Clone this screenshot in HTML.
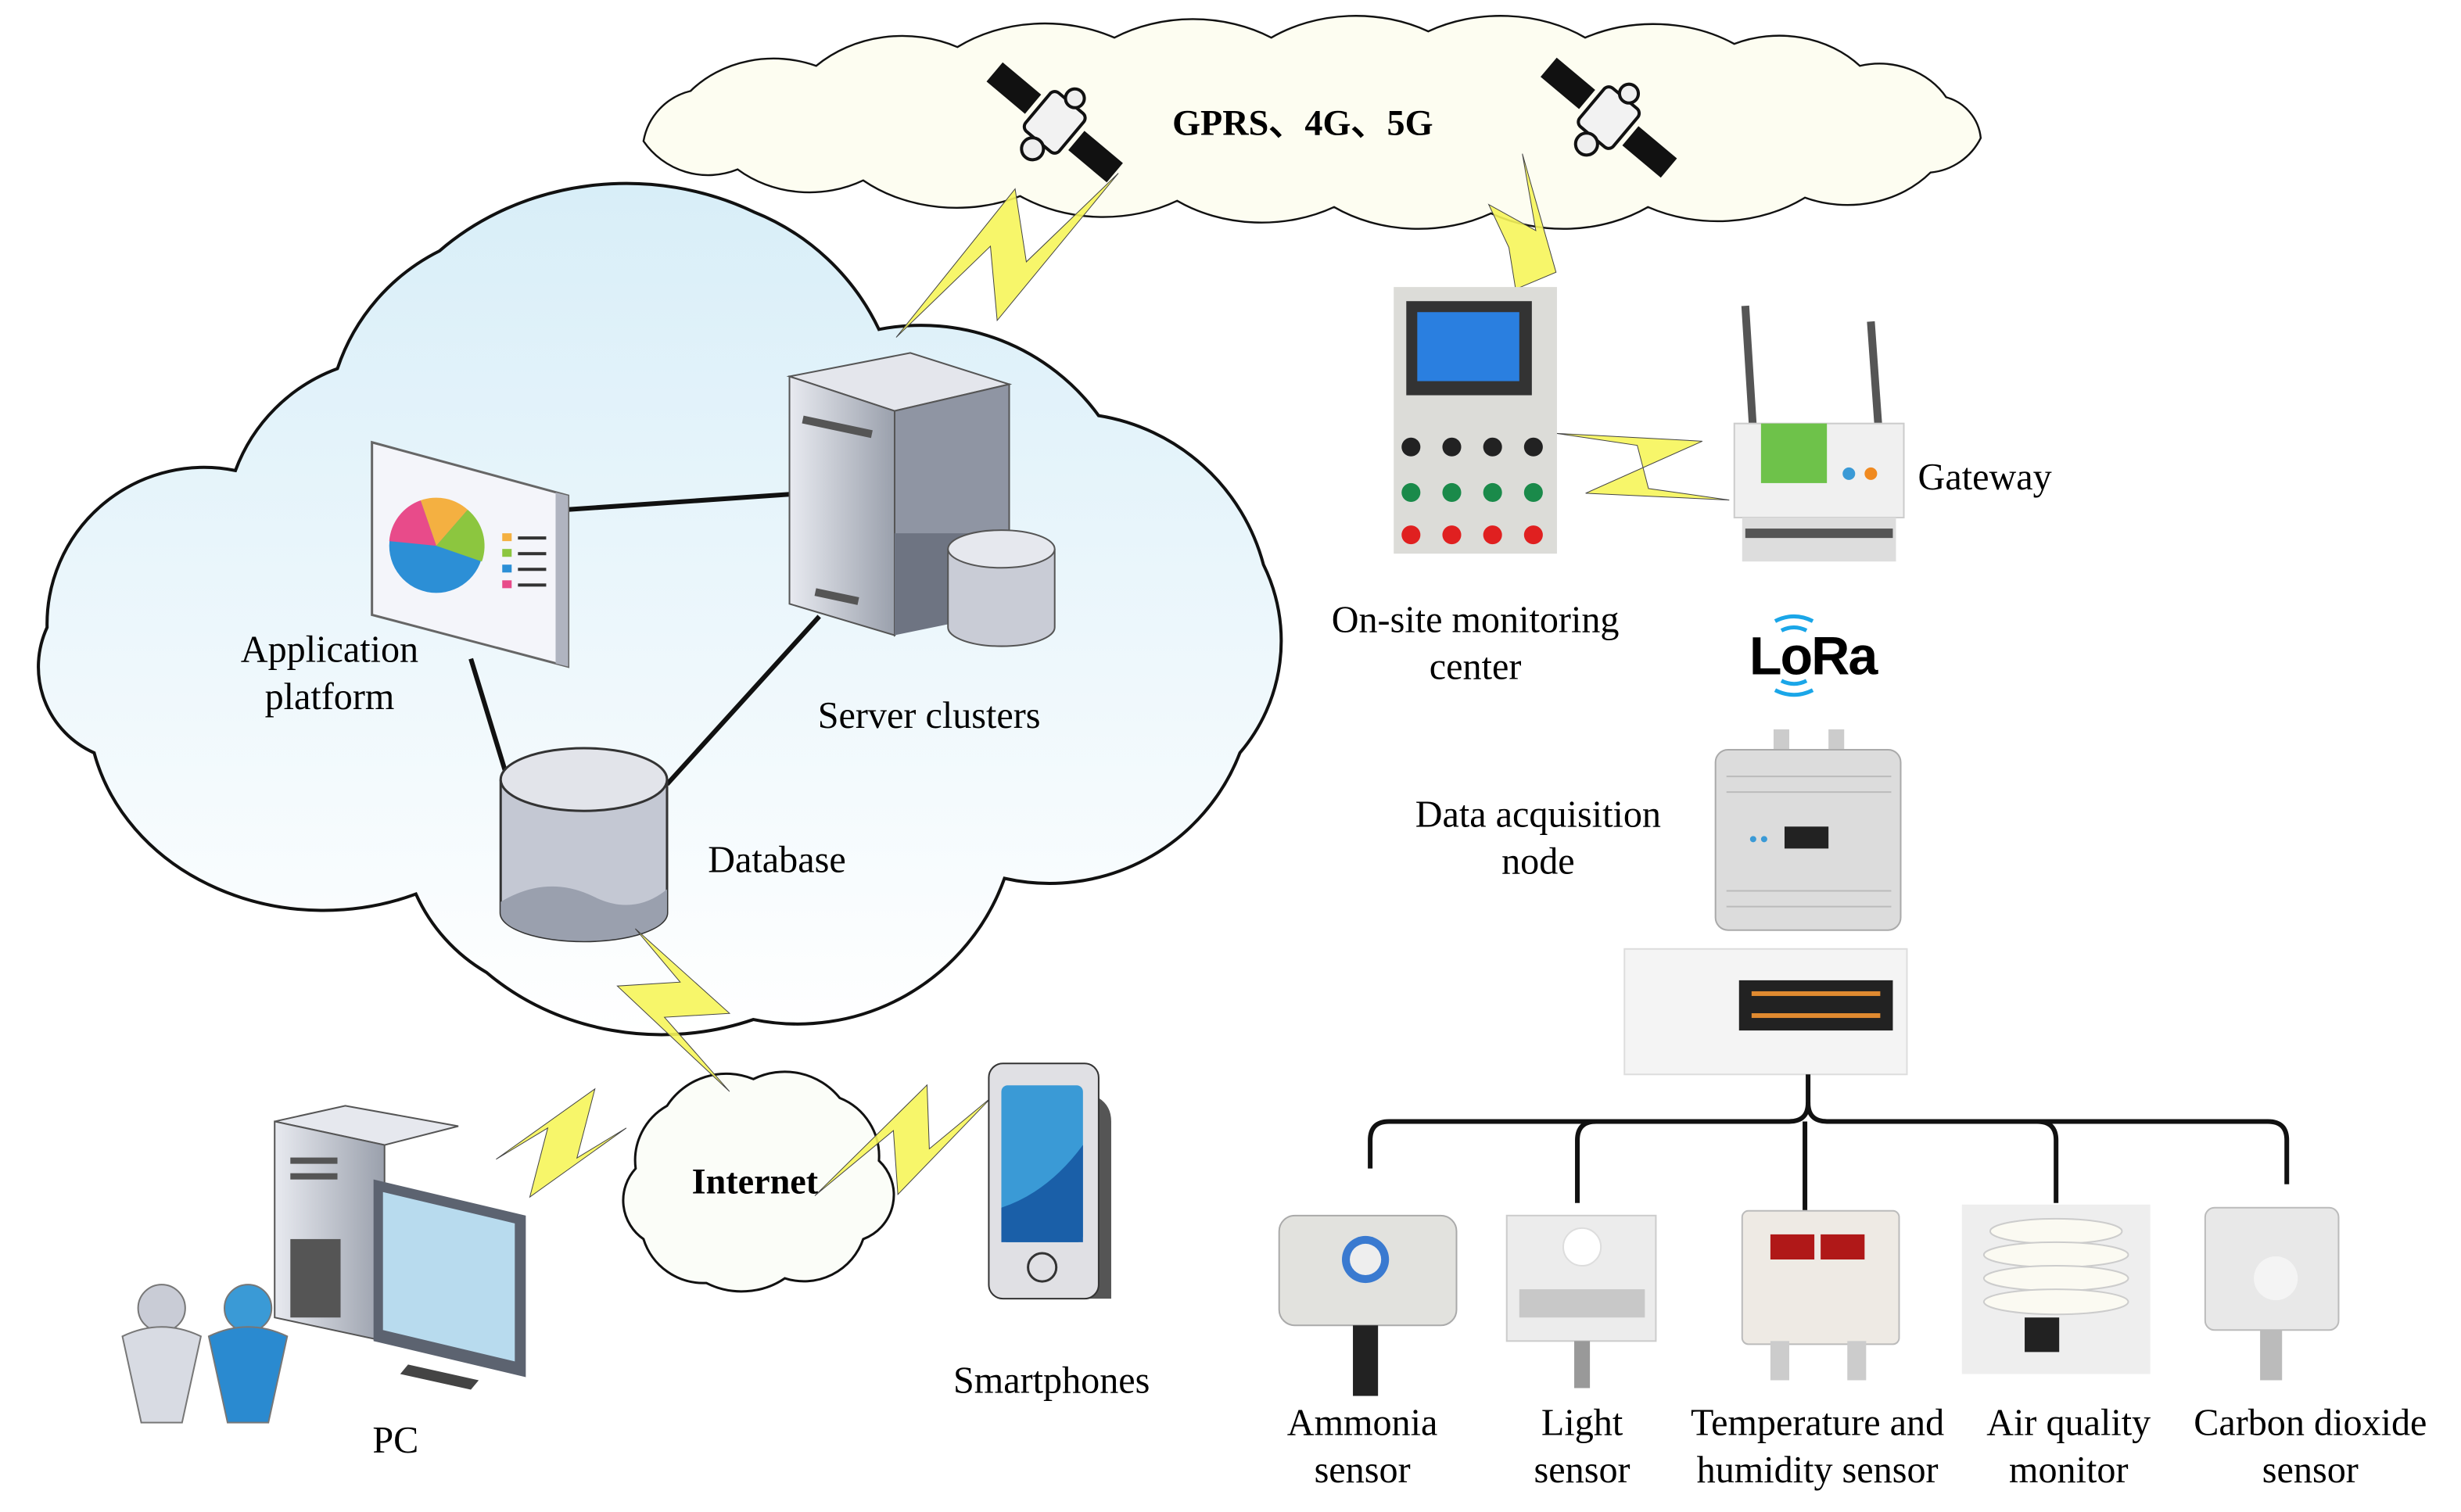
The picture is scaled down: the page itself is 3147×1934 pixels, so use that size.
<!DOCTYPE html>
<html><head><meta charset="utf-8"><style>html,body{margin:0;padding:0;background:#fff}svg{display:block}</style></head><body>
<svg width="3147" height="1934" viewBox="0 0 1568 964" preserveAspectRatio="none" xmlns="http://www.w3.org/2000/svg" font-family="Liberation Serif, serif">
<defs>
<linearGradient id="cg" x1="0" y1="0" x2="0" y2="1"><stop offset="0" stop-color="#d8eef8"/><stop offset="1" stop-color="#ffffff"/></linearGradient>
<linearGradient id="sv" x1="0" y1="0" x2="1" y2="0"><stop offset="0" stop-color="#e8eaf0"/><stop offset="1" stop-color="#9aa0ac"/></linearGradient>
<g id="sat"><g fill="#111"><rect x="-50" y="-8" width="32" height="16"/><rect x="18" y="-8" width="32" height="16"/></g><rect x="-14" y="-16" width="28" height="32" rx="4" fill="#f2f2f2" stroke="#111" stroke-width="2"/><circle cx="0" cy="-20" r="6" fill="#eee" stroke="#111" stroke-width="2"/><circle cx="0" cy="22" r="7" fill="#eee" stroke="#111" stroke-width="2"/></g>
</defs>
<rect width="1568" height="964" fill="#fff"/>
<!-- top cloud -->
<path d="M410,90 A40,40 0 0 1 440,58 A70,60 0 0 1 520,42 A80,70 0 0 1 610,30 A90,70 0 0 1 710,24 A90,70 0 0 1 810,24 A90,70 0 0 1 910,20 A90,70 0 0 1 1010,24 A90,70 0 0 1 1105,28 A70,60 0 0 1 1185,42 A50,45 0 0 1 1240,62 A30,30 0 0 1 1262,88 A40,40 0 0 1 1230,110 A70,60 0 0 1 1150,126 A90,70 0 0 1 1050,132 A90,70 0 0 1 950,136 A90,70 0 0 1 850,132 A90,70 0 0 1 750,128 A90,70 0 0 1 650,125 A90,70 0 0 1 550,115 A70,60 0 0 1 470,108 A50,50 0 0 1 410,90 Z" fill="#fdfdf1" stroke="#111" stroke-width="1.2"/>
<text x="830" y="86" font-size="23" font-weight="bold" text-anchor="middle">GPRS、4G、5G</text>
<use href="#sat" transform="translate(672,78) rotate(40)"/>
<use href="#sat" transform="translate(1025,75) rotate(40)"/>
<!-- left cloud -->
<path d="M60,480 A60,60 0 0 1 30,400 A100,100 0 0 1 150,300 A110,110 0 0 1 215,235 A130,130 0 0 1 280,160 A170,150 0 0 1 480,135 A150,150 0 0 1 560,210 A140,140 0 0 1 700,265 A130,130 0 0 1 805,360 A110,110 0 0 1 790,480 A130,130 0 0 1 640,560 A140,140 0 0 1 480,650 A160,140 0 0 1 310,620 A110,110 0 0 1 265,570 A150,130 0 0 1 60,480 Z" fill="url(#cg)" stroke="#111" stroke-width="2"/>
<!-- lines -->
<g stroke="#111" stroke-width="3"><line x1="360" y1="325" x2="505" y2="315"/><line x1="300" y1="420" x2="322" y2="492"/><line x1="522" y1="393" x2="425" y2="500"/></g>
<!-- app platform -->
<polygon points="237,282 362,316 362,425 237,392" fill="#f4f5fa" stroke="#666" stroke-width="1.5"/>
<polygon points="354,314 362,316 362,425 354,423" fill="#b0b4c0"/>
<circle cx="278" cy="348" r="30" fill="#2c8fd6"/>
<path d="M278,348 L248,345 A30,30 0 0 1 268,319 Z" fill="#e84b8a"/>
<path d="M278,348 L268,319 A30,30 0 0 1 298,325 Z" fill="#f4b041"/>
<path d="M278,348 L298,325 A30,30 0 0 1 307,358 Z" fill="#8cc63f"/>
<g fill="#333"><rect x="320" y="340" width="6" height="5" fill="#f4b041"/><rect x="330" y="342" width="18" height="2"/><rect x="320" y="350" width="6" height="5" fill="#8cc63f"/><rect x="330" y="352" width="18" height="2"/><rect x="320" y="360" width="6" height="5" fill="#2c8fd6"/><rect x="330" y="362" width="18" height="2"/><rect x="320" y="370" width="6" height="5" fill="#e84b8a"/><rect x="330" y="372" width="18" height="2"/></g>
<text x="210" y="422" font-size="24" text-anchor="middle">Application</text>
<text x="210" y="452" font-size="24" text-anchor="middle">platform</text>
<!-- server -->
<polygon points="503,240 580,225 643,245 570,262" fill="#e4e6ec" stroke="#555"/>
<polygon points="503,240 570,262 570,405 503,385" fill="url(#sv)" stroke="#555"/>
<polygon points="570,262 643,245 643,340 570,405" fill="#8f95a3" stroke="#555"/>
<polygon points="570,340 643,340 643,390 570,405" fill="#6e7482"/>
<rect x="512" y="265" width="45" height="5" fill="#555" transform="rotate(12 512 265)"/>
<rect x="520" y="375" width="28" height="5" fill="#555" transform="rotate(12 520 375)"/>
<path d="M604,350 v50 a34,12 0 0 0 68,0 v-50" fill="#c9ccd6" stroke="#555"/>
<ellipse cx="638" cy="350" rx="34" ry="12" fill="#e6e8ee" stroke="#555"/>
<text x="592" y="464" font-size="24" text-anchor="middle">Server clusters</text>
<!-- database -->
<path d="M319,497 v85 a53,18 0 0 0 106,0 v-85" fill="#c4c8d3" stroke="#333" stroke-width="1.5"/>
<path d="M319,575 q30,-18 60,-3 q25,12 46,-5 v15 a53,18 0 0 1 -106,0Z" fill="#9aa0ae"/>
<ellipse cx="372" cy="497" rx="53" ry="20" fill="#e2e4ea" stroke="#333" stroke-width="1.5"/>
<text x="495" y="556" font-size="24" text-anchor="middle">Database</text>
<!-- internet cloud -->
<path d="M410,790 A30,30 0 0 1 405,745 A40,40 0 0 1 425,705 A45,45 0 0 1 480,688 A45,45 0 0 1 535,700 A40,40 0 0 1 560,740 A30,30 0 0 1 550,790 A40,40 0 0 1 500,815 A45,40 0 0 1 450,818 A40,40 0 0 1 410,790Z" fill="#fbfdf8" stroke="#111" stroke-width="1.5"/>
<text x="481" y="761" font-size="23" font-weight="bold" text-anchor="middle">Internet</text>
<!-- bolts -->
<g fill="#f6f55a" stroke="#444" stroke-width="1" fill-opacity="0.9">
<g transform="translate(548.1,89.7) scale(0.286,0.1661)">
<polygon vector-effect="non-scaling-stroke" points="345,185 370,465 575,125 305,690 290,405 80,755"/>
<polygon vector-effect="non-scaling-stroke" points="1475,50 1505,345 1400,245 1445,410 1460,570 1550,505"/>
</g>
<g transform="translate(298.95,573) scale(0.286,0.1661)">
<polygon vector-effect="non-scaling-stroke" points="370,115 580,440 435,455 580,740 330,335 470,320"/>
<polygon vector-effect="non-scaling-stroke" points="280,730 240,995 350,880 135,1145 175,880 60,1000"/>
<polygon vector-effect="non-scaling-stroke" points="1020,715 1025,960 1165,760 955,1135 945,890 770,1140"/>
</g>
<g transform="translate(797.2,169.4) scale(0.286,0.332)">
<polygon vector-effect="non-scaling-stroke" points="680,322 1005,337 745,437 1065,450 885,428 860,345"/>
</g>
</g>
<!-- PC -->
<polygon points="175,715 220,705 292,718 245,730" fill="#e6e8ee" stroke="#555"/>
<polygon points="175,715 245,730 245,855 175,840" fill="url(#sv)" stroke="#555"/>
<rect x="185" y="738" width="30" height="4" fill="#555"/><rect x="185" y="748" width="30" height="4" fill="#555"/>
<rect x="185" y="790" width="32" height="50" fill="#555"/>
<polygon points="238,752 335,775 335,878 238,855" fill="#5c6370"/>
<polygon points="244,760 328,780 328,868 244,848" fill="#b8dbee"/>
<polygon points="260,870 305,880 300,886 255,876" fill="#444"/>
<g stroke="#777"><circle cx="103" cy="834" r="15" fill="#c9ccd6"/><path d="M78,852 q25,-12 50,0 l-12,55 h-26Z" fill="#d8dbe3"/><circle cx="158" cy="834" r="15" fill="#3a9ad6"/><path d="M133,852 q25,-12 50,0 l-12,55 h-26Z" fill="#2a8ad0"/></g>
<text x="252" y="926" font-size="24" text-anchor="middle">PC</text>
<!-- phone -->
<path d="M640,678 L700,700 Q708,705 708,715 V828 H640Z" fill="#555"/>
<rect x="630" y="678" width="70" height="150" rx="9" fill="#e0e0e4" stroke="#333"/>
<rect x="638" y="692" width="52" height="100" rx="4" fill="#3a9ad6"/>
<path d="M638,770 q30,-10 52,-40 v62 h-52Z" fill="#1a5fa8"/>
<circle cx="664" cy="808" r="9" fill="none" stroke="#333" stroke-width="1.5"/>
<text x="670" y="888" font-size="24" text-anchor="middle">Smartphones</text>
<!-- on-site panel -->
<rect x="888" y="183" width="104" height="170" fill="#dcdcd8"/>
<rect x="896" y="192" width="80" height="60" fill="#333"/>
<rect x="903" y="199" width="65" height="44" fill="#2a7fe0"/>
<g fill="#222"><circle cx="899" cy="285" r="6"/><circle cx="925" cy="285" r="6"/><circle cx="951" cy="285" r="6"/><circle cx="977" cy="285" r="6"/></g>
<g fill="#1a8a4a"><circle cx="899" cy="314" r="6"/><circle cx="925" cy="314" r="6"/><circle cx="951" cy="314" r="6"/><circle cx="977" cy="314" r="6"/></g>
<g fill="#e02020"><circle cx="899" cy="341" r="6"/><circle cx="925" cy="341" r="6"/><circle cx="951" cy="341" r="6"/><circle cx="977" cy="341" r="6"/></g>
<text x="940" y="403" font-size="24" text-anchor="middle">On-site monitoring</text>
<text x="940" y="433" font-size="24" text-anchor="middle">center</text>
<!-- gateway -->
<line x1="1112" y1="195" x2="1117" y2="275" stroke="#555" stroke-width="5"/>
<line x1="1192" y1="205" x2="1197" y2="275" stroke="#555" stroke-width="5"/>
<rect x="1105" y="270" width="108" height="60" fill="#f0f0f0" stroke="#ccc"/>
<rect x="1122" y="270" width="42" height="38" fill="#6ec24a"/>
<circle cx="1178" cy="302" r="4" fill="#3a9ad6"/><circle cx="1192" cy="302" r="4" fill="#f08a20"/>
<rect x="1110" y="330" width="98" height="28" fill="#ddd"/>
<rect x="1112" y="337" width="94" height="6" fill="#555"/>
<text x="1222" y="312" font-size="24">Gateway</text>
<!-- LoRa -->
<text x="1155" y="430" font-size="34" font-weight="bold" font-family="Liberation Sans, sans-serif" text-anchor="middle" letter-spacing="-1">LoRa</text>
<g fill="none" stroke="#1aa6e8" stroke-width="2.5"><path d="M1131,396 q12,-6 24,0"/><path d="M1135,402 q8,-4 16,0"/><path d="M1131,440 q12,6 24,0"/><path d="M1135,434 q8,4 16,0"/></g>
<!-- data node -->
<text x="980" y="527" font-size="24" text-anchor="middle">Data acquisition</text>
<text x="980" y="557" font-size="24" text-anchor="middle">node</text>
<rect x="1130" y="465" width="10" height="15" fill="#ccc"/><rect x="1165" y="465" width="10" height="15" fill="#ccc"/>
<rect x="1093" y="478" width="118" height="115" rx="8" fill="#dcdcdc" stroke="#aaa"/>
<g stroke="#bbb"><line x1="1100" y1="495" x2="1205" y2="495"/><line x1="1100" y1="505" x2="1205" y2="505"/><line x1="1100" y1="568" x2="1205" y2="568"/><line x1="1100" y1="578" x2="1205" y2="578"/></g>
<rect x="1137" y="527" width="28" height="14" fill="#222"/>
<circle cx="1117" cy="535" r="2" fill="#3a9ad6"/><circle cx="1124" cy="535" r="2" fill="#3a9ad6"/>
<rect x="1035" y="605" width="180" height="80" fill="#f4f4f4" stroke="#ddd"/>
<rect x="1108" y="625" width="98" height="32" fill="#222"/>
<g fill="#e08a30"><rect x="1116" y="632" width="82" height="3"/><rect x="1116" y="646" width="82" height="3"/></g>
<!-- tree -->
<g fill="none" stroke="#111" stroke-width="3"><path d="M1152,685 v18 q0,12 -12,12 H885 q-12,0 -12,12 v18"/><path d="M1152,703 q0,12 12,12 H1445 q12,0 12,12 v28"/><path d="M1017,715 q-12,0 -12,12 v40"/><line x1="1150" y1="715" x2="1150" y2="772"/><path d="M1298,715 q12,0 12,12 v40"/></g>
<!-- sensors -->
<rect x="815" y="775" width="113" height="70" rx="10" fill="#e2e2de" stroke="#aaa"/>
<circle cx="870" cy="803" r="15" fill="#3a7ad0"/><circle cx="870" cy="803" r="10" fill="#eee"/>
<rect x="862" y="845" width="16" height="45" fill="#222"/>
<rect x="960" y="775" width="95" height="80" fill="#ececec" stroke="#ccc"/>
<circle cx="1008" cy="795" r="12" fill="#fff" stroke="#ddd"/><rect x="968" y="822" width="80" height="18" fill="#c8c8c8"/>
<rect x="1003" y="855" width="10" height="30" fill="#999"/>
<rect x="1110" y="772" width="100" height="85" rx="4" fill="#eeeae4" stroke="#bbb"/>
<rect x="1128" y="787" width="28" height="16" fill="#b01818"/><rect x="1160" y="787" width="28" height="16" fill="#b01818"/>
<rect x="1128" y="855" width="12" height="25" fill="#ccc"/><rect x="1177" y="855" width="12" height="25" fill="#ccc"/>
<rect x="1250" y="768" width="120" height="108" fill="#eeeeee"/>
<g fill="#fbfaf2" stroke="#ccc"><ellipse cx="1310" cy="785" rx="42" ry="8"/><ellipse cx="1310" cy="800" rx="46" ry="8"/><ellipse cx="1310" cy="815" rx="46" ry="8"/><ellipse cx="1310" cy="830" rx="46" ry="8"/></g>
<rect x="1290" y="840" width="22" height="22" fill="#222"/>
<rect x="1405" y="770" width="85" height="78" rx="6" fill="#e8e8e8" stroke="#bbb"/>
<circle cx="1450" cy="815" r="14" fill="#f4f4f4"/><rect x="1440" y="848" width="14" height="32" fill="#bbb"/>
<g font-size="24" text-anchor="middle">
<text x="868" y="915">Ammonia</text><text x="868" y="945">sensor</text>
<text x="1008" y="915">Light</text><text x="1008" y="945">sensor</text>
<text x="1158" y="915">Temperature and</text><text x="1158" y="945">humidity sensor</text>
<text x="1318" y="915">Air quality</text><text x="1318" y="945">monitor</text>
<text x="1472" y="915">Carbon dioxide</text><text x="1472" y="945">sensor</text>
</g>
</svg>
</body></html>
